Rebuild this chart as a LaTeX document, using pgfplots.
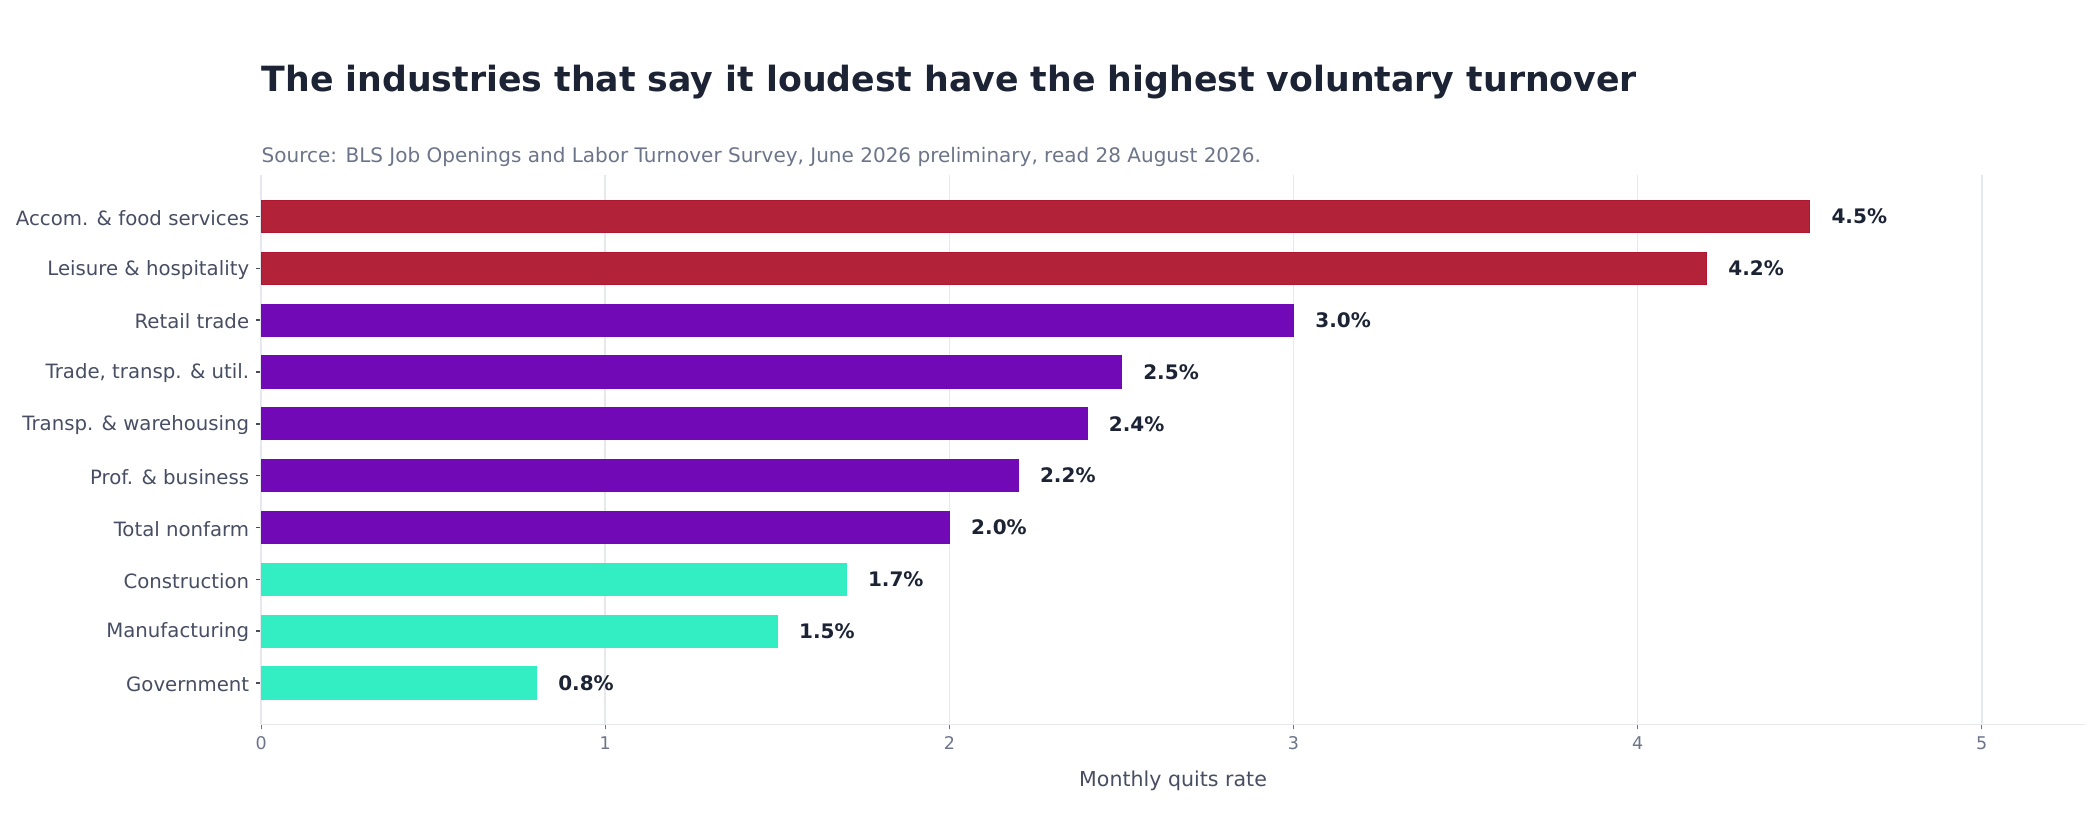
\documentclass[border=0pt]{standalone}
\usepackage{fontspec}
\setmainfont{DejaVu Sans}
\usepackage{pgfplots}
\pgfplotsset{compat=1.18}

\definecolor{barred}{HTML}{B22339}
\definecolor{barrededge}{HTML}{B01532}
\definecolor{barpurple}{HTML}{7209B7}
\definecolor{barteal}{HTML}{32EEC2}
\definecolor{titlecol}{HTML}{1B2334}
\definecolor{subcol}{HTML}{6B7489}
\definecolor{labcol}{HTML}{474E63}
\definecolor{gridcol}{HTML}{E6E8EE}

\begin{document}
\begin{tikzpicture}
\path[use as bounding box] (0,0) rectangle (756pt,295.2pt);
\node[anchor=base west, inner sep=0pt, text=titlecol,
      font=\fontsize{12.5}{15}\selectfont\bfseries] at (94pt,262.2pt)
  {The industries that say it loudest have the highest voluntary turnover};
\node[anchor=base west, inner sep=0pt, text=subcol,
      font=\fontsize{7.2}{9}\selectfont] at (94pt,236.6pt)
  {Source: BLS Job Openings and Labor Turnover Survey, June 2026 preliminary, read 28 August 2026.};
\begin{axis}[
    at={(94pt,34.4pt)}, anchor=south west,
    scale only axis,
    width=656.6pt, height=197.8pt,
    xbar, bar shift=0pt, bar width=0.62,
    xmin=0, xmax=5.3, ymin=-0.8, ymax=9.8,
    xtick={0,1,2,3,4,5},
    ytick={0,...,9},
    yticklabels={Government,Manufacturing,Construction,Total nonfarm,Prof. \& business,Transp. \& warehousing,{Trade, transp. \& util.},Retail trade,Leisure \& hospitality,Accom. \& food services},
    axis x line*=bottom, axis y line*=left,
    axis line style={draw=gridcol, line width=0.55pt},
    xmajorgrids, ymajorgrids=false,
    major grid style={draw=gridcol, line width=0.55pt},
    tick align=outside, major tick length=1.8pt,
    y tick style={draw=labcol, line width=0.5pt},
    x tick style={draw=subcol, line width=0.4pt},
    /pgf/number format/assume math mode=true,
    y tick label style={font=\fontsize{7.1}{8}\selectfont, text=labcol, inner sep=0pt, xshift=-2.3pt, yshift=-0.5pt},
    x tick label style={font=\fontsize{6.3}{7}\selectfont, text=subcol, inner sep=0pt, yshift=-2.3pt},
    xlabel={Monthly quits rate},
    xlabel style={font=\fontsize{7.4}{9}\selectfont, text=labcol,
                  at={(axis description cs:0.5,0)}, anchor=center, yshift=-20.2pt},
    nodes near coords={\pgfmathprintnumber[fixed,fixed zerofill,precision=1,assume math mode=true]{\pgfplotspointmeta}\%},
    every node near coord/.append style={anchor=west, inner sep=0pt, xshift=7.7pt,
        font=\fontsize{7.2}{8}\selectfont\bfseries, text=titlecol},
    clip=false,
]
\addplot[fill=barred, draw=barrededge, line width=0.35pt] coordinates {(4.5,9) (4.2,8)};
\addplot[fill=barpurple, draw=barpurple, line width=0.35pt] coordinates {(3.0,7) (2.5,6) (2.4,5) (2.2,4) (2.0,3)};
\addplot[fill=barteal, draw=barteal, line width=0.35pt] coordinates {(1.7,2) (1.5,1) (0.8,0)};
\end{axis}
\end{tikzpicture}
\end{document}
